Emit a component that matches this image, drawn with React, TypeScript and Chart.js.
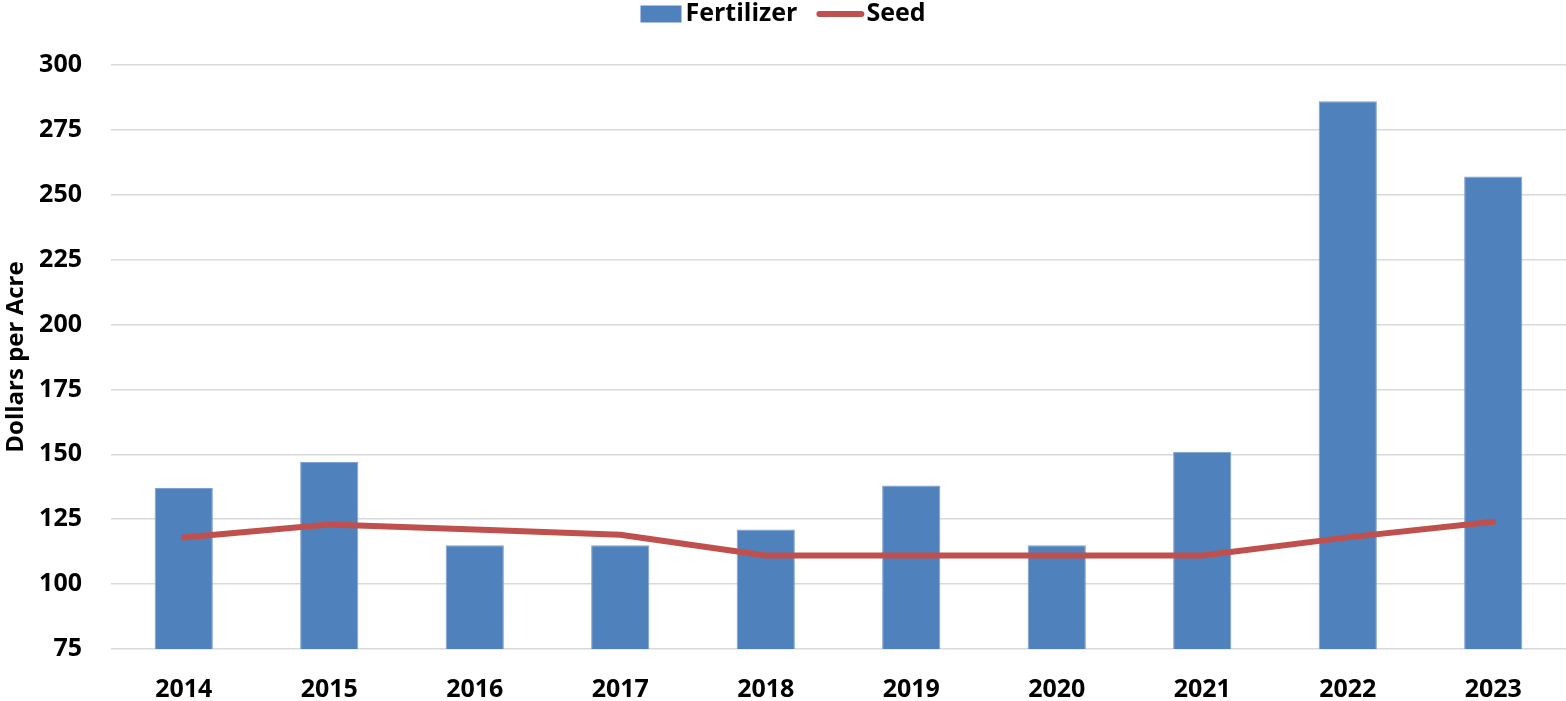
import React, { useEffect, useRef } from "react";
import { Chart, registerables } from "chart.js";

Chart.register(...registerables);

const categories = ["2014", "2015", "2016", "2017", "2018", "2019", "2020", "2021", "2022", "2023"];
const fertilizer = [137, 147, 115, 115, 121, 138, 115, 151, 286, 257];
const seed = [118, 123, 121, 119, 111, 111, 111, 111, 118, 124];
const yTicks = [75, 100, 125, 150, 175, 200, 225, 250, 275, 300];
const legendLabels = ["Fertilizer", "Seed"];

const BAR_COLOR = "#4f81bd";
const LINE_COLOR = "#c0504d";
const FONT = "'Open Sans', 'Liberation Sans', sans-serif";

const customLegend = {
  id: "customLegend",
  afterDraw(chart: any) {
    const ctx = chart.ctx as CanvasRenderingContext2D;
    ctx.save();
    ctx.font = `bold 25px ${FONT}`;
    ctx.textBaseline = "middle";
    ctx.fillStyle = "#000";
    const cy = 14;
    const wF = ctx.measureText(legendLabels[0]).width;
    const wS = ctx.measureText(legendLabels[1]).width;
    const boxW = 41;
    const boxH = 17;
    const lineW = 42;
    const total = boxW + 4 + wF + 22 + lineW + 5 + wS;
    let x = chart.width / 2 - total / 2;
    ctx.fillStyle = BAR_COLOR;
    ctx.fillRect(x, cy - boxH / 2, boxW, boxH);
    x += boxW + 4;
    ctx.fillStyle = "#000";
    ctx.textAlign = "left";
    ctx.fillText(legendLabels[0], x, cy);
    x += wF + 22;
    ctx.strokeStyle = LINE_COLOR;
    ctx.lineWidth = 6;
    ctx.lineCap = "round";
    ctx.beginPath();
    ctx.moveTo(x, cy);
    ctx.lineTo(x + lineW, cy);
    ctx.stroke();
    x += lineW + 5;
    ctx.fillText(legendLabels[1], x, cy);
    ctx.restore();
  },
};

export default function App() {
  const ref = useRef<HTMLCanvasElement | null>(null);

  useEffect(() => {
    document.body.style.margin = "0";
    const ctx = ref.current!.getContext("2d")!;
    const chart = new Chart(ctx, {
      type: "bar",
      data: {
        labels: categories,
        datasets: [
          {
            type: "bar",
            label: legendLabels[0],
            data: fertilizer,
            backgroundColor: BAR_COLOR,
            borderColor: "#7ea1cf",
            borderWidth: 1,
            barPercentage: 1,
            categoryPercentage: 0.4,
            order: 2,
          },
          {
            type: "line",
            label: legendLabels[1],
            data: seed,
            borderColor: LINE_COLOR,
            backgroundColor: LINE_COLOR,
            borderWidth: 6,
            pointRadius: 0,
            tension: 0,
            borderCapStyle: "round",
            borderJoinStyle: "round",
            order: 1,
          } as any,
        ],
      },
      plugins: [customLegend],
      options: {
        animation: false,
        responsive: false,
        maintainAspectRatio: false,
        layout: { padding: { left: 0, right: 0, top: 65, bottom: 0 } },
        plugins: {
          tooltip: { enabled: false },
          legend: { display: false },
        },
        scales: {
          x: {
            grid: { display: false, drawTicks: false },
            border: { display: false },
            afterFit: (scale: any) => {
              scale.height = 52;
            },
            ticks: {
              color: "#000",
              padding: 26,
              font: { family: FONT, size: 25, weight: "bold" },
            },
          },
          y: {
            min: 75,
            max: 300,
            afterBuildTicks: (axis: any) => {
              axis.ticks = yTicks.map((v) => ({ value: v }));
            },
            afterFit: (scale: any) => {
              scale.width = 111;
            },
            grid: { color: "#d9d9d9", lineWidth: 1.5, drawTicks: false },
            border: { display: false },
            ticks: {
              color: "#000",
              padding: 29,
              font: { family: FONT, size: 25, weight: "bold" },
            },
            title: {
              display: true,
              text: "Dollars per Acre",
              color: "#000",
              padding: { top: 2, bottom: 8 },
              font: { family: FONT, size: 24, weight: "bold" },
            },
          },
        },
      },
    });
    return () => chart.destroy();
  }, []);

  return (
    <div style={{ position: "absolute", left: 0, top: 0, width: 1566, height: 701 }}>
      <canvas ref={ref} width={1566} height={701} style={{ display: "block" }} />
    </div>
  );
}
